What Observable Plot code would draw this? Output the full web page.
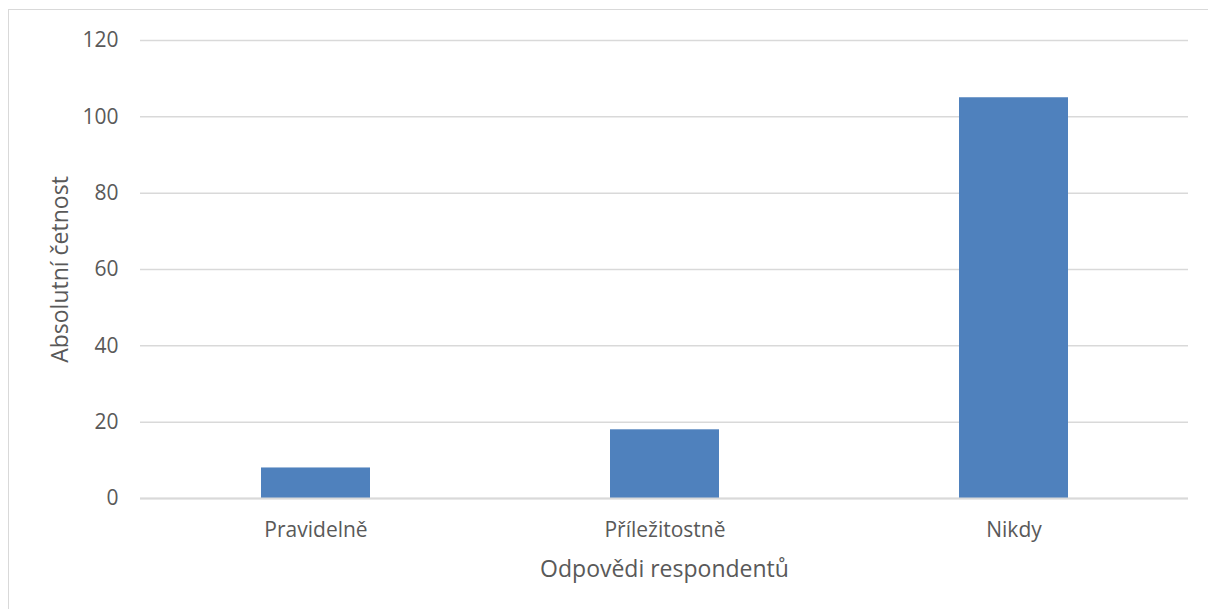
<!DOCTYPE html>
<html><head><meta charset="utf-8">
<script src="https://cdn.jsdelivr.net/npm/d3@7"></script>
<script src="https://cdn.jsdelivr.net/npm/@observablehq/plot@0.6"></script>
<style>
html,body{margin:0;padding:0;background:#fff;overflow:hidden;width:1208px;height:609px;}
#frame{position:absolute;left:8px;top:9px;width:1220px;height:620px;border:1.5px solid #d9d9d9;box-sizing:border-box;}
#chart{position:absolute;left:0;top:0;}
</style></head>
<body>
<div id="frame"></div>
<div id="chart"></div>
<script>
const categories = ["Pravidelně", "Příležitostně", "Nikdy"];
const counts = [8, 18, 105];
const yTicks = [0, 20, 40, 60, 80, 100, 120];
const xTitle = "Odpovědi respondentů";
const yTitle = "Absolutní četnost";

const data = categories.map((c, i) => ({cat: c, value: counts[i]}));
const font = "'Open Sans', sans-serif";

const plot = Plot.plot({
  width: 1208,
  height: 609,
  marginLeft: 140,
  marginRight: 20,
  marginTop: 40,
  marginBottom: 111,
  style: {fontFamily: font, fontSize: "21px", color: "#595959", background: "transparent"},
  x: {domain: categories, paddingInner: 0.688, paddingOuter: 0.344, label: null},
  y: {domain: [0, 120], label: null},
  marks: [
    Plot.gridY(yTicks, {stroke: "#d9d9d9", strokeOpacity: 1, strokeWidth: 1.5}),
    Plot.barY(data, {x: "cat", y: "value", fill: "#4f81bd"}),
    Plot.ruleY([0], {stroke: "#d9d9d9", strokeWidth: 2}),
    Plot.axisY(yTicks, {tickSize: 0, tickPadding: 22, fontSize: 21, fill: "#595959", label: null}),
    Plot.axisX({tickSize: 0, tickPadding: 24, fontSize: 21, fill: "#595959", label: null}),
    Plot.text([xTitle], {frameAnchor: "bottom", dy: 78, fontSize: 23, fill: "#595959"}),
    Plot.text([yTitle], {frameAnchor: "left", dx: -80, rotate: -90, textAnchor: "middle", fontSize: 23, fill: "#595959"})
  ]
});
document.getElementById("chart").appendChild(plot);
</script>
</body></html>
